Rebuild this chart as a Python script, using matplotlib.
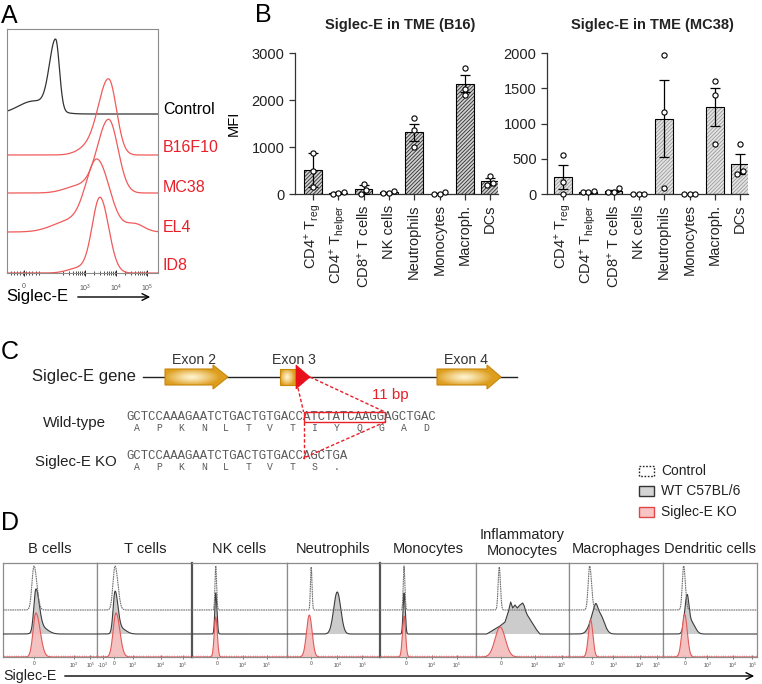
import numpy as np
import matplotlib
matplotlib.use("Agg")
import matplotlib.pyplot as plt
from matplotlib.patches import Polygon, Rectangle
from matplotlib.ticker import FixedLocator

plt.rcParams['font.family'] = ['Liberation Sans', 'DejaVu Sans']
plt.rcParams['mathtext.fontset'] = 'custom'
plt.rcParams['mathtext.rm'] = 'Liberation Sans'
plt.rcParams['mathtext.it'] = 'Liberation Sans:italic'
plt.rcParams['mathtext.bf'] = 'Liberation Sans:bold'
plt.rcParams['hatch.linewidth'] = 0.6

# ======================= DATA =======================
# ---- Panel A: histogram peaks (center in decades, sigma left, sigma right, height)
a_labels = ["Control", "B16F10", "MC38", "EL4", "ID8"]
a_offsets = [159, 118, 80, 41, 0]
a_ticks = [1.03, 3, 4, 5]
a_ticklabels = ["0", "10$^3$", "10$^4$", "10$^5$"]
a_control = [(2.05, 0.2, 0.12, 70), (1.35, 0.5, 0.5, 13)]
a_b16f10 = [(3.76, 0.33, 0.25, 75), (3.1, 0.35, 0.35, 7)]
a_mc38 = [(3.76, 0.36, 0.30, 73), (2.8, 0.45, 0.45, 7)]
a_el4 = [(3.39, 0.36, 0.40, 70), (2.5, 0.55, 0.55, 11), (4.6, 0.3, 0.3, 8)]
a_id8 = [(3.48, 0.25, 0.28, 75), (2.8, 0.35, 0.35, 5)]

# ---- Panel B: bar charts
cells = ['CD4$^{+}$ T$_{\\mathrm{reg}}$', 'CD4$^{+}$ T$_{\\mathrm{helper}}$',
         'CD8$^{+}$ T cells', 'NK cells', 'Neutrophils', 'Monocytes',
         'Macroph.', 'DCs']
b16_mean = [510, 20, 100, 35, 1310, 10, 2350, 270]
b16_err = [370, 15, 100, 12, 175, 10, 175, 80]
b16_pts = [[880, 155, 495], [0, 15, 45], [205, 95, 0], [20, 25, 60],
           [1610, 1360, 995], [35, 0, 0], [2690, 2230, 2110], [385, 240, 200]]
mc38_mean = [240, 25, 45, 0, 1070, 0, 1230, 430]
mc38_err = [170, 10, 15, 0, 550, 0, 270, 140]
mc38_pts = [[555, 166, 0], [47, 24, 24], [80, 33, 33], [0, 0, 0],
            [1970, 1165, 80], [0, 0, 0], [1600, 1410, 710], [710, 330, 280]]

# ---- Panel C: sequences
wt_seq = "GCTCCAAAGAATCTGACTGTGACCATCTATCAAGGAGCTGAC"
wt_aa = ["A", "P", "K", "N", "L", "T", "V", "T", "I", "Y", "Q", "G", "A", "D"]
ko_seq = "GCTCCAAAGAATCTGACTGTGACCAGCTGA"
ko_aa = ["A", "P", "K", "N", "L", "T", "V", "T", "S", "."]
del_start, del_end = 24, 35   # deleted 11 bp (character indices)

# ---- Panel D: histograms per cell type (x as fraction of panel width)
d_titles = ['B cells', 'T cells', 'NK cells', 'Neutrophils', 'Monocytes',
            'Inflammatory\nMonocytes', 'Macrophages', 'Dendritic cells']
d_ctrl = [[(0.33, 0.022, 0.03, 44)], [(0.19, 0.022, 0.03, 44)],
          [(0.25, 0.008, 0.009, 44)], [(0.26, 0.008, 0.009, 43)],
          [(0.25, 0.008, 0.009, 44)], [(0.25, 0.012, 0.013, 43)],
          [(0.22, 0.016, 0.02, 44)], [(0.22, 0.015, 0.018, 44)]]
d_wt = [[(0.35, 0.022, 0.035, 42), (0.42, 0.06, 0.06, 6)],
        [(0.19, 0.02, 0.03, 41), (0.26, 0.05, 0.05, 5)],
        [(0.25, 0.01, 0.012, 41)],
        [(0.54, 0.038, 0.038, 42)],
        [(0.25, 0.01, 0.012, 41)],
        None,
        [(0.277, 0.05, 0.025, 20), (0.33, 0.045, 0.045, 19)],
        [(0.255, 0.025, 0.02, 33), (0.30, 0.04, 0.04, 12)]]
infl_wt_x = [0.115, 0.258, 0.312, 0.347, 0.373, 0.395, 0.419, 0.444, 0.473,
             0.502, 0.519, 0.534, 0.552, 0.599, 0.653, 0.688]
infl_wt_y = [0, 8, 12, 22, 32, 26, 29, 26, 29, 31, 28, 23, 19, 12, 4, 0]
d_ko = [[(0.35, 0.03, 0.045, 44)], [(0.20, 0.03, 0.04, 44)],
        [(0.25, 0.016, 0.016, 40)], [(0.24, 0.03, 0.03, 42)],
        [(0.25, 0.016, 0.016, 41)], [(0.26, 0.055, 0.055, 30)],
        [(0.23, 0.024, 0.024, 37)], [(0.23, 0.028, 0.028, 43)]]
d_tick_pos = [[0.33, 0.755, 0.93], [0.06, 0.18, 0.38, 0.67, 0.905],
              [0.26, 0.537, 0.79], [0.26, 0.54, 0.81], [0.27, 0.54, 0.80],
              [0.27, 0.63, 0.92], [0.245, 0.47, 0.755, 0.935],
              [0.235, 0.47, 0.745, 0.95]]
d_tick_lab = [["0", "10$^3$", "10$^5$"], ["-10$^3$", "0", "10$^3$", "10$^4$", "10$^5$"],
              ["0", "10$^4$", "10$^5$"], ["0", "10$^4$", "10$^5$"], ["0", "10$^4$", "10$^5$"],
              ["0", "10$^4$", "10$^5$"], ["0", "10$^3$", "10$^4$", "10$^5$"],
              ["0", "10$^3$", "10$^4$", "10$^5$"]]
legend_labels = ["Control", "WT C57BL/6", "Siglec-E KO"]

# ======================= FIGURE =======================
W, H = 762, 684
fig = plt.figure(figsize=(W / 100, H / 100), dpi=100)


def px_axes(x0, y0, x1, y1):
    return fig.add_axes([x0 / W, 1 - y1 / H, (x1 - x0) / W, (y1 - y0) / H])


def peaks(x, comps):
    y = np.zeros_like(x)
    for c, sl, sr, h in comps:
        s = np.where(x < c, sl, sr)
        y = y + h * np.exp(-0.5 * ((x - c) / s) ** 2)
    return y


ov = px_axes(0, 0, W, H)
ov.set_xlim(0, W)
ov.set_ylim(H, 0)
ov.axis('off')

RED = '#e8202a'

# panel letters
for lab, (x, y) in zip("ABCD", [(1, 16), (255, 15), (1, 352), (1, 523)]):
    ov.text(x, y, lab, fontsize=18, ha='left', va='center')

# ---------------- Panel A ----------------
axA = px_axes(7, 29, 158, 273)
u = np.linspace(0.48, 5.35, 800)
a_cols = ['#333333', '#f05a5a', '#f05a5a', '#f05a5a', '#f05a5a']
for off, comps, col in zip(a_offsets, [a_control, a_b16f10, a_mc38, a_el4, a_id8], a_cols):
    axA.plot(u, off + peaks(u, comps), color=col, lw=0.9)
axA.set_xlim(0.48, 5.35)
axA.set_ylim(0, 244)
for s in axA.spines.values():
    s.set_color('#8c8c8c')
    s.set_linewidth(0.8)
axA.set_yticks([])
axA.set_xticks(a_ticks)
axA.set_xticklabels(a_ticklabels, fontsize=5, color='#555555')
a_minor = [d + np.log10(k) for d in (2, 3, 4) for k in range(2, 10)] + list(np.linspace(0.6, 1.5, 10))
axA.xaxis.set_minor_locator(FixedLocator(a_minor))
axA.tick_params(axis='x', which='major', length=4, width=0.6, direction='inout', pad=5)
axA.tick_params(axis='x', which='minor', length=2.5, width=0.5, direction='inout')

a_label_y = [110, 148, 188, 227, 265]
for lab, y, col in zip(a_labels, a_label_y, ['black', RED, RED, RED, RED]):
    ov.text(163, y, lab, fontsize=11.5, color=col, ha='left', va='center')
ov.text(6, 297, "Siglec-E", fontsize=12, ha='left', va='center')
ov.annotate('', xy=(153, 297), xytext=(75, 297),
            arrowprops=dict(arrowstyle='->', lw=1.0, color='black', mutation_scale=12))

# ---------------- Panel B ----------------


def jitter(vals, ymax):
    vals = np.asarray(vals, float)
    order = np.argsort(vals)
    offs = np.zeros(len(vals))
    thr = 0.035 * ymax
    clusters = [[order[0]]]
    for i in order[1:]:
        if vals[i] - vals[clusters[-1][-1]] < thr:
            clusters[-1].append(i)
        else:
            clusters.append([i])
    for cl in clusters:
        n = len(cl)
        for k, i in enumerate(cl):
            offs[i] = (k - (n - 1) / 2) * 0.22
    return offs


def bar_panel(ax, means, errs, pts, ymax, ystep, hatch_col, face, xl):
    x = np.arange(len(cells))
    ax.bar(x, means, width=0.7, color=face, edgecolor=hatch_col, hatch='/////////',
           linewidth=0, zorder=2)
    ax.bar(x, means, width=0.7, fill=False, edgecolor='black', linewidth=0.8, zorder=3)
    ax.errorbar(x, means, yerr=errs, fmt='none', ecolor='black', elinewidth=0.9,
                capsize=3.5, capthick=0.9, zorder=4)
    for xi, vals in zip(x, pts):
        offs = jitter(vals, ymax)
        ax.scatter(xi + offs, vals, s=14, facecolor='white', edgecolor='black',
                   linewidth=0.8, zorder=5, clip_on=False)
    ax.set_xlim(xl, 7.31)
    ax.set_ylim(0, ymax)
    ax.set_yticks(np.arange(0, ymax + 1, ystep))
    ax.set_xticks(x)
    ax.set_xticklabels(cells, rotation=90, fontsize=10.5)
    ax.tick_params(axis='y', labelsize=10.5, length=4, width=0.9, colors='#333333')
    ax.tick_params(axis='x', length=4, width=0.9, colors='#333333')
    for t in ax.get_xticklabels() + ax.get_yticklabels():
        t.set_color('#222222')
    for side in ('top', 'right'):
        ax.spines[side].set_visible(False)
    for side in ('left', 'bottom'):
        ax.spines[side].set_color('#333333')
        ax.spines[side].set_linewidth(0.9)


axB1 = px_axes(295, 53, 498, 194)
bar_panel(axB1, b16_mean, b16_err, b16_pts, 3000, 1000, '#2e2e2e', '#d0d0d0', -0.71)
axB1.set_ylabel("MFI", fontsize=10.5, labelpad=8)
axB2 = px_axes(547, 53, 748, 194)
bar_panel(axB2, mc38_mean, mc38_err, mc38_pts, 2000, 500, '#9a9a9a', '#e4e4e4', -0.63)
ov.text(400, 25, "Siglec-E in TME (B16)", fontsize=10.5, fontweight='bold', ha='center', va='center', color='#222222')
ov.text(652, 25, "Siglec-E in TME (MC38)", fontsize=10.5, fontweight='bold', ha='center', va='center', color='#222222')

# ---------------- Panel C ----------------
YC = 377
ov.text(32, YC, "Siglec-E gene", fontsize=12, ha='left', va='center', color='#222222')
ov.plot([143, 517], [YC, YC], color='#222222', lw=1.0, zorder=1)


def exon(x0, x1, head):
    bh, hh = 8, 12
    if head > 0:
        verts = [(x0, YC - bh), (x1 - head, YC - bh), (x1 - head, YC - hh), (x1, YC),
                 (x1 - head, YC + hh), (x1 - head, YC + bh), (x0, YC + bh)]
    else:
        verts = [(x0, YC - bh), (x1, YC - bh), (x1, YC + bh), (x0, YC + bh)]
    poly = Polygon(verts, closed=True, facecolor='none', edgecolor='#c8860a', lw=0.8, zorder=3)
    ov.add_patch(poly)
    nx, ny = 80, 40
    gx = np.linspace(-1, 1, nx)
    gy = np.linspace(-1, 1, ny)
    X, Y = np.meshgrid(gx, gy)
    r = np.clip(np.sqrt(((X + 0.15) / 0.9) ** 2 + (Y / 0.75) ** 2), 0, 1)
    light = np.array([1.0, 0.96, 0.82])
    gold = np.array([0.87, 0.62, 0.12])
    img = light[None, None, :] * (1 - r[..., None] ** 1.2) + gold[None, None, :] * (r[..., None] ** 1.2)
    im = ov.imshow(img, extent=(x0, x1, YC + hh, YC - hh), aspect='auto', zorder=2,
                   interpolation='bilinear')
    im.set_clip_path(poly)


exon(165, 228, 15)
exon(280, 297, 0)
exon(437, 501, 14)
ov.add_patch(Polygon([(296, 365), (310, YC), (296, 389)], closed=True,
                     facecolor='#e8101a', edgecolor='#e8101a', lw=0.5, zorder=4))
ov.set_xlim(0, W)
ov.set_ylim(H, 0)
for lab, xc in zip(["Exon 2", "Exon 3", "Exon 4"], [194, 294, 466]):
    ov.text(xc, 360, lab, fontsize=10.2, ha='center', va='center', color='#333333')

CW = 7.4
SX = 126
mono = 'Liberation Mono'
ov.text(SX, 417, wt_seq, fontsize=8.88, family=mono, color='#5a5a5a', ha='left', va='center')
for i, aa in enumerate(wt_aa):
    ov.text(SX + CW * (3 * i + 1.5), 428, aa, fontsize=7, family=mono, color='#5a5a5a', ha='center', va='center')
ov.text(SX, 456, ko_seq, fontsize=8.88, family=mono, color='#5a5a5a', ha='left', va='center')
for i, aa in enumerate(ko_aa):
    ov.text(SX + CW * (3 * i + 1.5), 467, aa, fontsize=7, family=mono, color='#5a5a5a', ha='center', va='center')
ov.text(43, 423, "Wild-type", fontsize=10.9, ha='left', va='center', color='#222222')
ov.text(35, 462, "Siglec-E KO", fontsize=10.8, ha='left', va='center', color='#222222')

rx0 = SX + CW * del_start
rx1 = SX + CW * del_end
ov.add_patch(Rectangle((rx0, 412), rx1 - rx0, 10, fill=False, edgecolor=RED, lw=1.0, zorder=5))
dash = dict(color=RED, lw=1.0, linestyle=(0, (2.5, 1.5)), zorder=5)
ov.plot([298, rx0], [388, 412], **dash)
ov.plot([310, rx1], [YC, 412], **dash)
ov.plot([rx0, rx0], [422, 460], **dash)
ov.plot([rx1, rx0], [422, 458], **dash)
ov.text(390, 395, "11 bp", fontsize=10.9, color=RED, ha='center', va='center')

# legend for D
ov.add_patch(Rectangle((639, 466), 15, 10, facecolor='white', edgecolor='#222222', lw=1.0, linestyle=(0, (1.2, 1.2))))
ov.add_patch(Rectangle((639, 486), 15, 10, facecolor='#d4d4d4', edgecolor='#333333', lw=1.0))
ov.add_patch(Rectangle((639, 507), 15, 10, facecolor='#f8c4c4', edgecolor='#e04848', lw=1.0))
for lab, y in zip(legend_labels, [471, 491, 512]):
    ov.text(661, y, lab, fontsize=10, ha='left', va='center', color='#222222')

# ---------------- Panel D ----------------
d_left = [3, 97, 192, 287, 380, 476, 569, 663]
d_right = [97, 192, 287, 380, 476, 569, 663, 757]
d_title_x = [50, 145, 239, 333, 428, 522, 616, 710]
xs = np.linspace(0, 1, 900)
CB, WB = 47, 23
for i in range(8):
    ax = px_axes(d_left[i], 563, d_right[i], 657)
    ax.set_xlim(0, 1)
    ax.set_ylim(0, 94)
    # WT
    if d_wt[i] is None:
        wx = np.array([0.0] + infl_wt_x + [1.0])
        wy = np.array([0.0] + infl_wt_y + [0.0])
    else:
        wx = xs
        wy = peaks(xs, d_wt[i])
    ax.fill_between(wx, WB, WB + wy, facecolor='#cccccc', edgecolor='none', zorder=2)
    ax.plot(wx, WB + wy, color='#3c3c3c', lw=0.8, zorder=3)
    # Control
    ax.plot(xs, CB + peaks(xs, d_ctrl[i]), color='#707070', lw=0.8,
            linestyle=(0, (1.5, 0.6)), zorder=4)
    # KO
    ky = peaks(xs, d_ko[i])
    ax.fill_between(xs, 0, ky, facecolor='#f4b8b8', edgecolor='none', alpha=0.85, zorder=5)
    ax.plot(xs, ky, color='#e05a5a', lw=0.8, zorder=6)
    ax.set_yticks([])
    ax.set_xticks(d_tick_pos[i])
    ax.set_xticklabels(d_tick_lab[i], fontsize=3.5, color='#777777')
    ax.xaxis.set_minor_locator(FixedLocator(np.arange(0.0125, 1, 0.025)))
    ax.tick_params(axis='x', which='major', length=2.5, width=0.5, direction='inout', pad=1.5, colors='#444444')
    ax.tick_params(axis='x', which='minor', length=1.5, width=0.4, direction='in', colors='#e08080')
    for s in ax.spines.values():
        s.set_color('#8c8c8c')
        s.set_linewidth(0.9)
    if i in (2, 4):
        ax.spines['left'].set_color('#555555')
        ax.spines['left'].set_linewidth(1.6)
    ov.text(d_title_x[i], 549 if i != 5 else 543, d_titles[i], fontsize=10.5,
            ha='center', va='center', color='#222222', linespacing=1.1)

ov.text(3, 676, "Siglec-E", fontsize=10.3, ha='left', va='center', color='#222222')
ov.annotate('', xy=(757, 676), xytext=(62, 676),
            arrowprops=dict(arrowstyle='->', lw=1.0, color='black', mutation_scale=12))

fig.savefig("out.png", dpi=100)
